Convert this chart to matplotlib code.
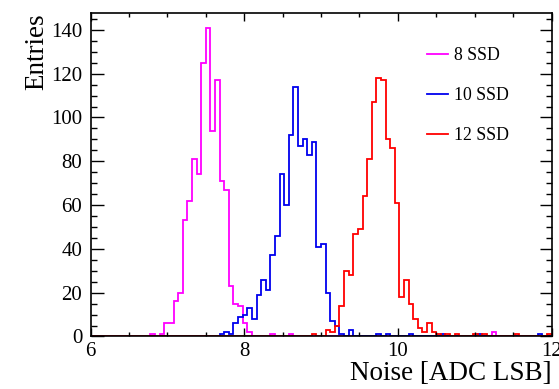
import numpy as np
import matplotlib
matplotlib.use('Agg')
import matplotlib.pyplot as plt
from matplotlib.lines import Line2D
from matplotlib.ticker import MultipleLocator

# Noise histograms: 100 bins between 6 and 12 ADC LSB
x_lo, x_hi, n_bins = 6.0, 12.0, 100

ssd8 = [0, 0, 0, 0, 0, 0, 0, 0, 0, 0, 0, 0, 0, 1, 0, 1, 6, 6, 16, 20,
        53, 62, 81, 74, 125, 141, 94, 117, 71, 67, 23, 15, 14, 6, 2, 0, 0, 0, 0, 1,
        0, 0, 0, 1, 0, 0, 0, 0, 0, 0, 0, 0, 0, 0, 0, 0, 0, 0, 0, 0,
        0, 0, 0, 0, 0, 0, 0, 0, 0, 0, 0, 0, 0, 0, 0, 0, 0, 0, 0, 0,
        0, 0, 0, 0, 0, 0, 0, 2, 0, 0, 0, 0, 0, 0, 0, 0, 0, 0, 0, 0]

ssd10 = [0, 0, 0, 0, 0, 0, 0, 0, 0, 0, 0, 0, 0, 0, 0, 0, 0, 0, 0, 0,
         0, 0, 0, 0, 0, 0, 0, 0, 1, 2, 1, 6, 9, 10, 13, 8, 19, 26, 21, 37,
         46, 74, 60, 92, 114, 87, 90, 83, 89, 41, 42, 20, 7, 5, 1, 0, 3, 0, 0, 0,
         0, 0, 1, 0, 1, 0, 0, 0, 0, 1, 0, 0, 0, 0, 0, 0, 1, 0, 0, 0,
         0, 0, 0, 0, 1, 0, 0, 0, 0, 0, 0, 0, 0, 0, 0, 0, 0, 1, 0, 0]

ssd12 = [0, 0, 0, 0, 0, 0, 0, 0, 0, 0, 0, 0, 0, 0, 0, 0, 0, 0, 0, 0,
         0, 0, 0, 0, 0, 0, 0, 0, 0, 0, 0, 0, 0, 0, 0, 0, 0, 0, 0, 0,
         0, 0, 0, 0, 0, 0, 0, 0, 1, 0, 0, 3, 2, 5, 14, 30, 28, 47, 49, 64,
         81, 107, 118, 117, 90, 86, 61, 18, 26, 15, 8, 4, 2, 6, 2, 1, 0, 1, 0, 1,
         0, 0, 0, 1, 0, 1, 0, 0, 0, 0, 0, 0, 1, 0, 0, 0, 0, 0, 0, 1]

labels = ['8 SSD', '10 SSD', '12 SSD']
colors = ['#ff00ff', '#0000ee', '#ff0000']

edges = np.linspace(x_lo, x_hi, n_bins + 1)

plt.rcParams['font.family'] = 'Liberation Serif'

fig = plt.figure(figsize=(5.59, 3.89), dpi=100)
ax = fig.add_axes([0.162, 0.135, 0.8246, 0.8316])

for counts, c in zip([ssd8, ssd10, ssd12], colors):
    ax.stairs(counts, edges, color=c, linewidth=1.3, baseline=0)

ax.set_xlim(x_lo, x_hi)
ax.set_ylim(0, 147.7)

ax.xaxis.set_major_locator(MultipleLocator(2))
ax.xaxis.set_minor_locator(MultipleLocator(0.5))
ax.yaxis.set_major_locator(MultipleLocator(20))
ax.yaxis.set_minor_locator(MultipleLocator(5))

ax.tick_params(axis='both', which='both', direction='in', top=True, right=True,
               width=1.0, colors='black', labelsize=15)
ax.tick_params(axis='x', which='major', length=6, pad=4)
ax.tick_params(axis='x', which='minor', length=3)
ax.tick_params(axis='y', which='major', length=9, pad=6)
ax.tick_params(axis='y', which='minor', length=4.5)

for s in ax.spines.values():
    s.set_linewidth(1.2)

ax.set_xlabel('Noise [ADC LSB]', fontsize=19.5, loc='right', labelpad=0)
ax.set_ylabel('Entries', fontsize=19.5, loc='top', labelpad=1)

handles = [Line2D([], [], color=c, linewidth=1.3) for c in colors]
ax.legend(handles, labels, loc='upper left', bbox_to_anchor=(0.715, 0.916),
          frameon=False, fontsize=12.8, handlelength=1.15, handletextpad=0.35,
          labelspacing=1.3, borderaxespad=0)

fig.savefig('out.png', dpi=100)
